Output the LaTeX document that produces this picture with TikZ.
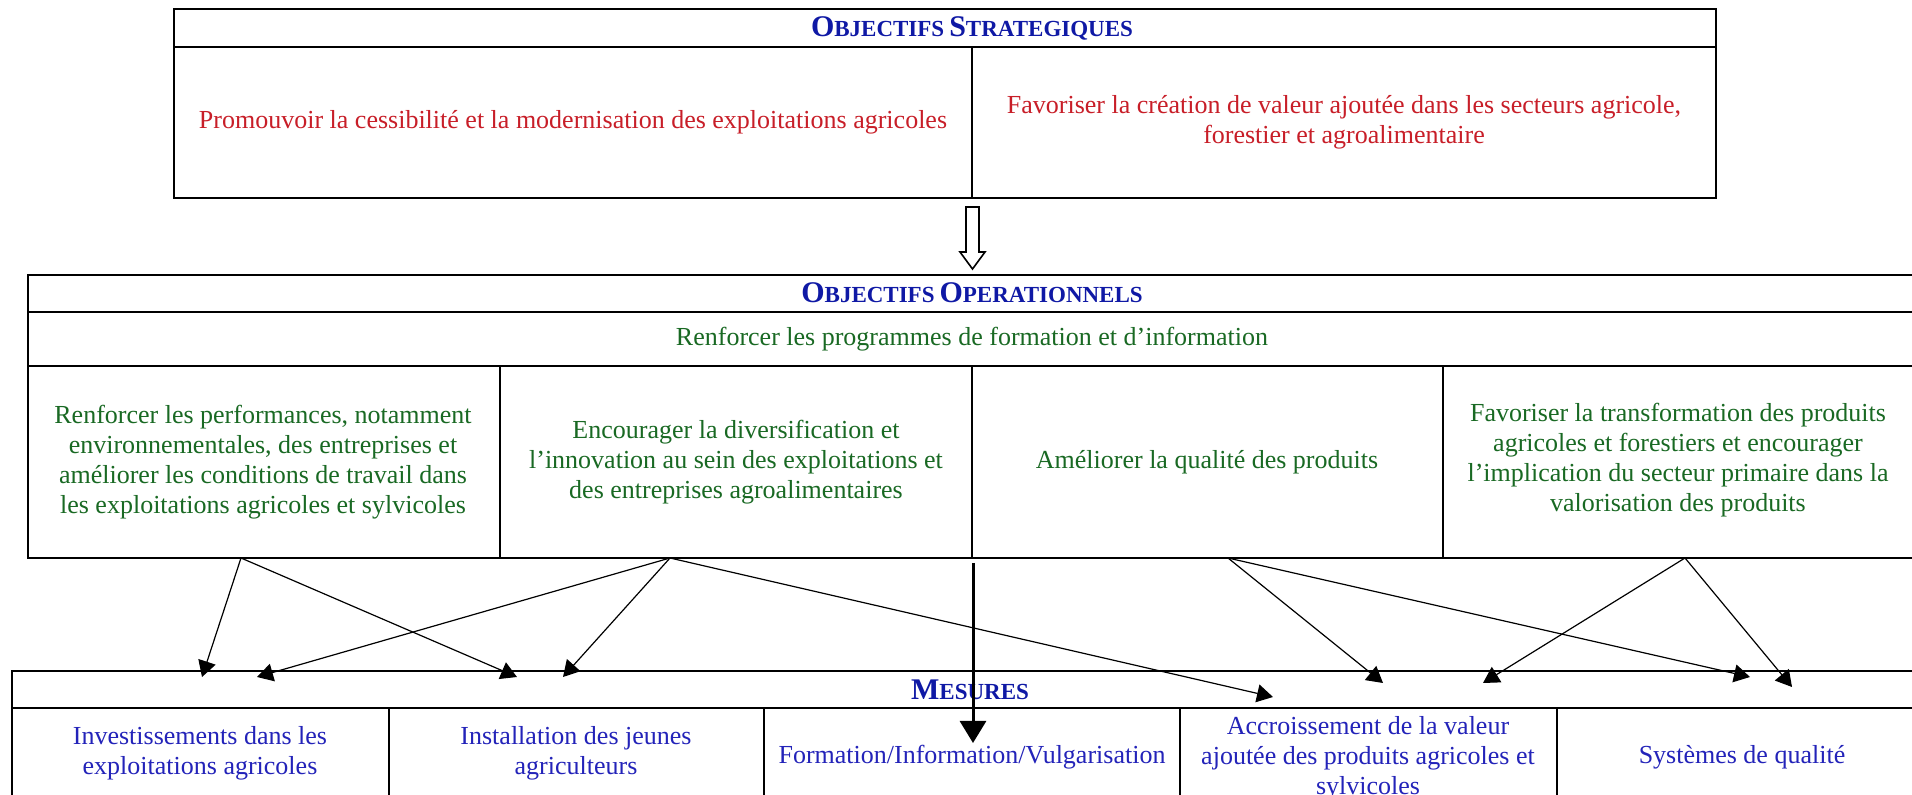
\documentclass[tikz,border=0pt]{standalone}
\usepackage{fontspec}
\setmainfont{Liberation Serif}
\usetikzlibrary{arrows.meta}
\definecolor{stratred}{RGB}{200,30,40}
\definecolor{opgreen}{RGB}{25,105,35}
\definecolor{mesblue}{RGB}{35,35,185}
\definecolor{headblue}{RGB}{15,25,165}
\newcommand{\celltxt}{\fontsize{13}{15}\selectfont}
\newcommand{\hdcaps}[2]{{\fontsize{15}{18}\selectfont #1}{\fontsize{11.5}{14}\selectfont #2}}
\tikzset{
  frame/.style={draw, line width=1pt},
  strattxt/.style={text=stratred, font=\celltxt, align=center, inner sep=0pt},
  optxt/.style={text=opgreen, font=\celltxt, align=center, inner sep=0pt},
  mestxt/.style={text=mesblue, font=\celltxt, align=center, inner sep=0pt},
  headtxt/.style={text=headblue, font=\bfseries, inner sep=0pt},
  lnk/.style={-{Triangle[length=8pt,width=9pt]}, line width=0.6pt},
  biglnk/.style={-{Triangle[length=11pt,width=13pt]}, line width=1.5pt},
}
\begin{document}
\begin{tikzpicture}[x=0.5pt, y=-0.5pt]
  \useasboundingbox (0,0) rectangle (1912,795);
  \fill[white] (0,0) rectangle (1912,795);
  \clip (0,0) rectangle (1912,795);

  % --- Objectifs strategiques ---
  \draw[frame] (174,9) rectangle (1716,198);
  \draw[frame] (174,47) -- (1716,47) (972,47) -- (972,198);
  \node[headtxt] (shead) at (972,28) {\hdcaps{O}{BJECTIFS} \hdcaps{S}{TRATEGIQUES}};
  \node[strattxt] (s1) at (573,122) {Promouvoir la cessibilité et la modernisation des exploitations agricoles};
  \node[strattxt] (s2) at (1344,122) {Favoriser la création de valeur ajoutée dans les secteurs agricole,\\ forestier et agroalimentaire};

  % hollow arrow
  \draw[line width=0.8pt, fill=white] (966,207) -- (979,207) -- (979,252) -- (985,252)
    -- (972.5,269) -- (960,252) -- (966,252) -- cycle;

  % --- Objectifs operationnels ---
  \draw[frame] (28,275) rectangle (1930,558);
  \draw[frame] (28,312) -- (1930,312) (28,366) -- (1930,366);
  \foreach \x in {500,972,1443}
    \draw[frame] (\x,366) -- (\x,558);
  \node[headtxt] (ohead) at (972,293) {\hdcaps{O}{BJECTIFS} \hdcaps{O}{PERATIONNELS}};
  \node[optxt] (o0) at (972,339) {Renforcer les programmes de formation et d’information};
  \node[optxt] (o1) at (263,462) {Renforcer les performances, notamment\\ environnementales, des entreprises et\\ améliorer les conditions de travail dans\\ les exploitations agricoles et sylvicoles};
  \node[optxt] (o2) at (736,462) {Encourager la diversification et\\ l’innovation au sein des exploitations et\\ des entreprises agroalimentaires};
  \node[optxt] (o3) at (1207,462) {Améliorer la qualité des produits};
  \node[optxt] (o4) at (1678,460) {Favoriser la transformation des produits\\ agricoles et forestiers et encourager\\ l’implication du secteur primaire dans la\\ valorisation des produits};

  % --- Mesures ---
  \draw[frame] (12,671) rectangle (1930,806);
  \draw[frame] (12,708) -- (1930,708);
  \foreach \x in {389,764,1180,1557}
    \draw[frame] (\x,708) -- (\x,806);
  \node[headtxt] (mhead) at (970,690) {\hdcaps{M}{ESURES}};
  \node[mestxt] (m1) at (200,753) {Investissements dans les\\ exploitations agricoles};
  \node[mestxt] (m2) at (576,753) {Installation des jeunes\\ agriculteurs};
  \node[mestxt] (m3) at (972,757) {Formation/Information/Vulgarisation};
  \node[mestxt] (m4) at (1368,758) {Accroissement de la valeur\\ ajoutée des produits agricoles et\\ sylvicoles};
  \node[mestxt] (m5) at (1742,757) {Systèmes de qualité};

  % link ends
  \coordinate (o1b) at (241,558);
  \coordinate (o2b) at (670,558);
  \coordinate (o3b) at (1228,558);
  \coordinate (o4b) at (1685,558);
  \coordinate (midb) at (973,563);
  \coordinate (inv1) at (202,677);
  \coordinate (inv2) at (257,677);
  \coordinate (ins1) at (517,677);
  \coordinate (ins2) at (563,677);
  \coordinate (form) at (973,743);
  \coordinate (acc1) at (1273,697);
  \coordinate (acc2) at (1383,683);
  \coordinate (acc3) at (1483,683);
  \coordinate (sys1) at (1750,677);
  \coordinate (sys2) at (1792,687);

  % links
  \draw[lnk] (o1b) -- (inv1);
  \draw[lnk] (o1b) -- (ins1);
  \draw[lnk] (o2b) -- (inv2);
  \draw[lnk] (o2b) -- (ins2);
  \draw[lnk] (o2b) -- (acc1);
  \draw[biglnk] (midb) -- (form);
  \draw[lnk] (o3b) -- (acc2);
  \draw[lnk] (o3b) -- (sys1);
  \draw[lnk] (o4b) -- (acc3);
  \draw[lnk] (o4b) -- (sys2);
\end{tikzpicture}
\end{document}
